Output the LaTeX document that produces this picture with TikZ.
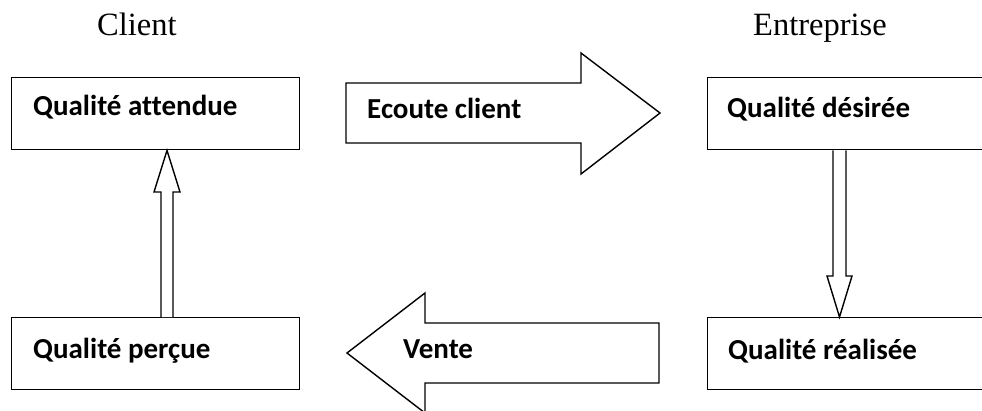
\documentclass[tikz,border=0pt]{standalone}
\usepackage{fontspec}
\setmainfont{Liberation Serif}
\newfontfamily\boxfont[Ligatures=CommonOff]{Carlito}
\usetikzlibrary{calc}
\begin{document}
\begin{tikzpicture}[x=1pt,y=-1pt,
  box/.style={draw, line width=1.4pt, minimum width=288pt, minimum height=72pt, anchor=north west, inner sep=0pt},
  lbl/.style={anchor=base west, inner sep=0pt, font=\boxfont\bfseries\fontsize{29}{34}\selectfont},
  ttl/.style={anchor=base west, inner sep=0pt, font=\fontsize{32.5}{38}\selectfont},
  blk/.style={draw, line width=1.4pt, fill=white, line join=miter}]
\clip (0,0) rectangle (982,410);
\fill[white] (0,0) rectangle (982,410);
% titles
\node[ttl] (client) at (97,35) {Client};
\node[ttl] (entr) at (753,35) {Entreprise};
% boxes
\node[box] (qa) at (11,77) {};
\node[box] (qp) at (11,317) {};
\node[box] (qd) at (707,77) {};
\node[box] (qr) at (707,317) {};
\node[lbl] (tqa) at (33,115.5) {Qualité attendue};
\node[lbl] (tqp) at (33,358) {Qualité perçue};
\node[lbl] (tqd) at (727,117.5) {Qualité désirée};
\node[lbl] (tqr) at (728,359) {Qualité réalisée};
% block arrows
\draw[blk] (346,83) -- (581,83) -- (581,53) -- (660,113) -- (581,174) -- (581,143) -- (346,143) -- cycle;
\node[lbl] (tec) at (367,118) {Ecoute client};
\draw[blk] (659,323) -- (425,323) -- (425,293) -- (347,353) -- (425,413) -- (425,383) -- (659,383) -- cycle;
\node[lbl] (tv) at (403,358) {Vente};
% vertical arrows
\draw[blk] (161,0 |- qp.north) -- (161,192) -- (154,192) -- (167,0 |- qa.south) -- (180,192) -- (173,192) -- (173,0 |- qp.north);
\draw[blk] (833,0 |- qd.south) -- (833,276) -- (827,276) -- (839.5,0 |- qr.north) -- (852,276) -- (846,276) -- (846,0 |- qd.south);
\end{tikzpicture}
\end{document}
